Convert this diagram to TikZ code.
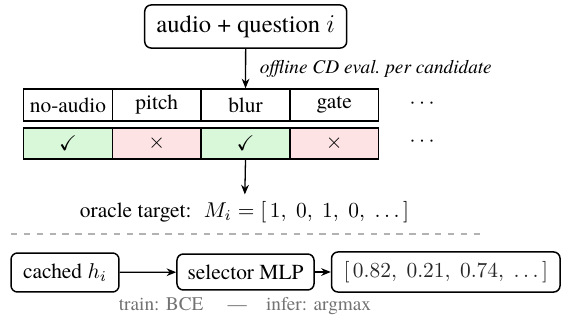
\documentclass[tikz,border=0pt]{standalone}
\usepackage{amssymb}
\usepackage{fontspec}
\setmainfont{texgyretermes}[Extension=.otf, UprightFont=*-regular, ItalicFont=*-italic, BoldFont=*-bold, BoldItalicFont=*-bolditalic]
\usetikzlibrary{arrows.meta}
\definecolor{okfill}{HTML}{D9F7D9}
\definecolor{badfill}{HTML}{FDE3E3}
\begin{document}
\begin{tikzpicture}[x=0.467pt,y=-0.467pt,
  box/.style={draw, rounded corners=3pt, line width=0.7pt, inner sep=0pt, font=\fontsize{10}{12}\selectfont},
  cell/.style={draw, line width=0.7pt, inner sep=0pt, minimum width=41.4pt, font=\fontsize{10}{12}\selectfont},
  hdr/.style={cell, minimum height=14.9pt},
  res/.style={cell, minimum height=14.5pt},
  arr/.style={-{Stealth[length=4.5pt,width=3.6pt]}, line width=0.6pt},
  plain/.style={inner sep=0pt, font=\fontsize{10}{12}\selectfont}]
\useasboundingbox (0,0) rectangle (570,320);
% top
\node[box, minimum width=94.3pt, minimum height=20.1pt, font=\fontsize{11.5}{13}\selectfont] (top) at (245.7,26.5) {audio + question $i$};
% table
\node[hdr] (h1) at (68,105) {no-audio};
\node[hdr] (h2) at (156.7,105) {pitch};
\node[hdr] (h3) at (245.5,105) {blur};
\node[hdr] (h4) at (334.3,105) {gate};
\node[plain] (hd) at (422,104) {$\cdots$};
\node[res, fill=okfill] (r1) at (68,143.5) {$\checkmark$};
\node[res, fill=badfill] (r2) at (156.7,143.5) {$\times$};
\node[res, fill=okfill] (r3) at (245.5,143.5) {$\checkmark$};
\node[res, fill=badfill] (r4) at (334.3,143.5) {$\times$};
\node[plain] (rd) at (422,142) {$\cdots$};
\draw[arr] (top) -- node[right=3pt, font=\fontsize{9}{11}\selectfont\itshape] (lbl) {offline CD eval.\ per candidate} (h3);
% oracle
\node[plain, inner sep=3pt] (or) at (244.5,212) {oracle target: \ $M_i=[\,1,\; 0,\; 1,\; 0,\; \ldots\,]$};
\draw[arr] (r3.south) -- (or);
% separator
\coordinate (dl) at (11,234);
\coordinate (dr) at (480,234);
\draw[dashed, gray!60, line width=0.5pt] (dl) -- (dr);
% bottom
\node[box, minimum width=50.4pt, minimum height=18.2pt] (ca) at (65,272.5) {cached $h_i$};
\node[box, minimum width=64pt, minimum height=16.8pt] (se) at (245.5,272) {selector MLP};
\node[box, minimum width=106.7pt, minimum height=18.7pt, text=black!85] (re) at (445.8,272) {$[\,0.82,\; 0.21,\; 0.74,\; \ldots\,]$};
\draw[arr] (ca) -- (se);
\draw[arr] (se) -- (re);
\node[plain, text=black!55, font=\fontsize{9}{11}\selectfont] (note) at (245,306) {train: BCE \quad---\quad infer: argmax};
\end{tikzpicture}
\end{document}
